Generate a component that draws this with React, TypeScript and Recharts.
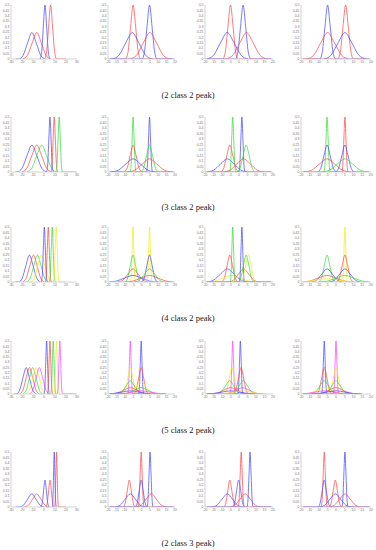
import { LineChart, Line, XAxis, YAxis } from 'recharts'

type Pt = [number, number]
// [class index, points]
type Curve = [number, Pt[]]

const xTicksFirst = [-30, -20, -10, 0, 10, 20, 30]
const xTicksRest = [-20, -15, -10, -5, 0, 5, 10, 15, 20]
const yTicks = [0, 0.05, 0.1, 0.15, 0.2, 0.25, 0.3, 0.35, 0.4, 0.45, 0.5]

const captions = ['(2 class 2 peak)', '(3 class 2 peak)', '(4 class 2 peak)', '(5 class 2 peak)', '(2 class 3 peak)']

// 0 blue, 1 red, 2 green, 3 yellow, 4 magenta
const r1c1: Curve[] = [
  [0, [[-26, 0], [-23, 0], [-19, 0.034], [-15, 0.147], [-11, 0.245], [-7, 0.147], [-3, 0.034], [1, 0]]],
  [1, [[-19.2, 0], [-15, 0.034], [-10.8, 0.147], [-6.6, 0.245], [-2.4, 0.147], [1.8, 0.034], [6, 0]]],
  [0, [[-3.6, 0], [-2.1, 0.07], [-0.6, 0.3], [0.9, 0.5], [2.4, 0.3], [3.9, 0.07], [5.4, 0]]],
  [1, [[0.6, 0], [2.4, 0.07], [4.2, 0.3], [6, 0.5], [7.8, 0.3], [9.6, 0.07], [11.4, 0], [20, 0]]],
]
const r1c2: Curve[] = [
  [1, [[-19, 0], [-9.5, 0], [-8, 0.07], [-6.5, 0.3], [-5, 0.5], [-3.5, 0.3], [-2, 0.07], [-0.5, 0], [19, 0]]],
  [0, [[-17.5, 0], [-13.5, 0.034], [-9.5, 0.147], [-5.5, 0.245], [-1.5, 0.147], [2.5, 0.034], [6.5, 0]]],
  [0, [[-19, 0], [0.3, 0], [1.8, 0.07], [3.3, 0.3], [4.8, 0.5], [6.3, 0.3], [7.8, 0.07], [9.3, 0], [19, 0]]],
  [1, [[-7, 0], [-3, 0.034], [1, 0.147], [5, 0.245], [9, 0.147], [13, 0.034], [17, 0]]],
]
const r1c3: Curve[] = [
  [1, [[-19, 0], [-9.5, 0], [-8, 0.07], [-6.5, 0.3], [-5, 0.5], [-3.5, 0.3], [-2, 0.07], [-0.5, 0], [19, 0]]],
  [0, [[-19, 0], [-15, 0.034], [-11, 0.147], [-6.9, 0.245], [-2.8, 0.147], [1.3, 0.034], [5.3, 0]]],
  [0, [[-19, 0], [-2.1, 0], [-0.6, 0.07], [0.9, 0.3], [2.4, 0.5], [3.9, 0.3], [5.4, 0.07], [6.9, 0], [19, 0]]],
  [1, [[-7.6, 0], [-3.6, 0.034], [0.4, 0.147], [4.4, 0.245], [8.4, 0.147], [12.4, 0.034], [16.4, 0]]],
]
const r1c4: Curve[] = [
  [0, [[-19, 0], [-9.3, 0], [-7.8, 0.07], [-6.3, 0.3], [-4.8, 0.5], [-3.3, 0.3], [-1.8, 0.07], [-0.3, 0], [19, 0]]],
  [1, [[-16.8, 0], [-12.8, 0.034], [-8.8, 0.147], [-4.8, 0.245], [-0.8, 0.147], [3.2, 0.034], [7.2, 0]]],
  [1, [[-19, 0], [1, 0], [2.5, 0.07], [4, 0.3], [5.5, 0.5], [7, 0.3], [8.5, 0.07], [10, 0], [19, 0]]],
  [0, [[-6.9, 0], [-2.9, 0.034], [1.1, 0.147], [5.1, 0.245], [9.1, 0.147], [13.1, 0.034], [17.1, 0]]],
]

const r2c1: Curve[] = [
  [0, [[-26, 0], [-24.5, 0], [-20, 0.034], [-15.5, 0.147], [-11, 0.245], [-6.5, 0.147], [-2, 0.034], [2.5, 0]]],
  [1, [[-20.1, 0], [-15.6, 0.034], [-11.1, 0.147], [-6.6, 0.245], [-2.1, 0.147], [2.4, 0.034], [6.9, 0]]],
  [2, [[-15.6, 0], [-11.1, 0.034], [-6.6, 0.147], [-2.1, 0.245], [2.4, 0.147], [6.9, 0.034], [11.4, 0]]],
  [0, [[2.4, 0], [3.4, 0.07], [4.4, 0.3], [5.4, 0.5], [6.4, 0.3], [7.4, 0.07], [8.4, 0]]],
  [1, [[6.3, 0], [7.3, 0.07], [8.3, 0.3], [9.3, 0.5], [10.3, 0.3], [11.3, 0.07], [12.3, 0]]],
  [2, [[10.8, 0], [11.8, 0.07], [12.8, 0.3], [13.8, 0.5], [14.8, 0.3], [15.8, 0.07], [16.8, 0], [29, 0]]],
]
const r2c2: Curve[] = [
  [2, [[-19, 0], [-6.8, 0], [-6.2, 0.07], [-5.6, 0.3], [-5, 0.5], [-4.4, 0.3], [-3.8, 0.07], [-3.2, 0], [19, 0]]],
  [1, [[-10.4, 0], [-8.6, 0.034], [-6.8, 0.147], [-5, 0.245], [-3.2, 0.147], [-1.4, 0.034], [0.4, 0]]],
  [0, [[-18.2, 0], [-13.8, 0.017], [-9.4, 0.072], [-5, 0.12], [-0.6, 0.072], [3.8, 0.017], [8.2, 0]]],
  [0, [[-19, 0], [3, 0], [3.6, 0.07], [4.2, 0.3], [4.8, 0.5], [5.4, 0.3], [6, 0.07], [6.6, 0], [19, 0]]],
  [2, [[-0.6, 0], [1.2, 0.034], [3, 0.147], [4.8, 0.245], [6.6, 0.147], [8.4, 0.034], [10.2, 0]]],
  [1, [[-8.4, 0], [-4, 0.017], [0.4, 0.072], [4.8, 0.12], [9.2, 0.072], [13.6, 0.017], [18, 0]]],
]
const r2c3: Curve[] = [
  [0, [[-18.9, 0], [-14.9, 0.017], [-10.9, 0.072], [-6.9, 0.12], [-2.9, 0.072], [1.1, 0.017], [5.1, 0]]],
  [1, [[-10.8, 0], [-9, 0.034], [-7.2, 0.147], [-5.4, 0.245], [-3.6, 0.147], [-1.8, 0.034], [0, 0]]],
  [2, [[-19, 0], [-5.5, 0], [-4.9, 0.07], [-4.3, 0.3], [-3.7, 0.5], [-3.1, 0.3], [-2.5, 0.07], [-1.9, 0], [19, 0]]],
  [0, [[-19, 0], [-0.1, 0], [0.5, 0.07], [1.1, 0.3], [1.7, 0.5], [2.3, 0.3], [2.9, 0.07], [3.5, 0], [19, 0]]],
  [1, [[-9.3, 0], [-5.3, 0.017], [-1.3, 0.072], [2.7, 0.12], [6.7, 0.072], [10.7, 0.017], [14.7, 0]]],
  [2, [[-1.2, 0], [0.6, 0.034], [2.4, 0.147], [4.2, 0.245], [6, 0.147], [7.8, 0.034], [9.6, 0]]],
]
const r2c4: Curve[] = [
  [2, [[-19, 0], [-6.9, 0], [-6.3, 0.07], [-5.7, 0.3], [-5.1, 0.5], [-4.5, 0.3], [-3.9, 0.07], [-3.3, 0], [19, 0]]],
  [0, [[-10.5, 0], [-8.7, 0.034], [-6.9, 0.147], [-5.1, 0.245], [-3.3, 0.147], [-1.5, 0.034], [0.3, 0]]],
  [1, [[-18.3, 0], [-13.9, 0.017], [-9.5, 0.072], [-5.1, 0.12], [-0.7, 0.072], [3.7, 0.017], [8.1, 0]]],
  [1, [[-19, 0], [3.3, 0], [3.9, 0.07], [4.5, 0.3], [5.1, 0.5], [5.7, 0.3], [6.3, 0.07], [6.9, 0], [19, 0]]],
  [0, [[-0.3, 0], [1.5, 0.034], [3.3, 0.147], [5.1, 0.245], [6.9, 0.147], [8.7, 0.034], [10.5, 0]]],
  [2, [[-8.1, 0], [-3.7, 0.017], [0.7, 0.072], [5.1, 0.12], [9.5, 0.072], [13.9, 0.017], [18.3, 0]]],
]

const r3c1: Curve[] = [
  [0, [[-26, 0], [-23.1, 0], [-19.8, 0.034], [-16.5, 0.147], [-13.2, 0.245], [-9.9, 0.147], [-6.6, 0.034], [-3.3, 0]]],
  [1, [[-19.5, 0], [-16.2, 0.034], [-12.9, 0.147], [-9.6, 0.245], [-6.3, 0.147], [-3, 0.034], [0.3, 0]]],
  [2, [[-15.9, 0], [-12.6, 0.034], [-9.3, 0.147], [-6, 0.245], [-2.7, 0.147], [0.6, 0.034], [3.9, 0]]],
  [3, [[-12.3, 0], [-9, 0.034], [-5.7, 0.147], [-2.4, 0.245], [0.9, 0.147], [4.2, 0.034], [7.5, 0]]],
  [0, [[-2.4, 0], [-1.5, 0.07], [-0.6, 0.3], [0.3, 0.5], [1.2, 0.3], [2.1, 0.07], [3, 0]]],
  [1, [[1.2, 0], [2.1, 0.07], [3, 0.3], [3.9, 0.5], [4.8, 0.3], [5.7, 0.07], [6.6, 0]]],
  [2, [[4.8, 0], [5.7, 0.07], [6.6, 0.3], [7.5, 0.5], [8.4, 0.3], [9.3, 0.07], [10.2, 0]]],
  [3, [[8.4, 0], [9.3, 0.07], [10.2, 0.3], [11.1, 0.5], [12, 0.3], [12.9, 0.07], [13.8, 0], [20, 0]]],
]
const r3c2: Curve[] = [
  [3, [[-19, 0], [-6.6, 0], [-6.1, 0.07], [-5.6, 0.3], [-5.1, 0.5], [-4.6, 0.3], [-4.1, 0.07], [-3.6, 0], [19, 0]]],
  [2, [[-9.9, 0], [-8.3, 0.034], [-6.7, 0.147], [-5.1, 0.245], [-3.5, 0.147], [-1.9, 0.034], [-0.3, 0]]],
  [1, [[-14.1, 0], [-11.1, 0.017], [-8.1, 0.072], [-5.1, 0.12], [-2.1, 0.072], [0.9, 0.017], [3.9, 0]]],
  [0, [[-19, 0], [-15.1, 0.008], [-10.1, 0.036], [-5.1, 0.06], [-0.1, 0.036], [4.9, 0.008], [9.9, 0]]],
  [3, [[-19, 0], [3.3, 0], [3.8, 0.07], [4.3, 0.3], [4.8, 0.5], [5.3, 0.3], [5.8, 0.07], [6.3, 0], [19, 0]]],
  [0, [[0, 0], [1.6, 0.034], [3.2, 0.147], [4.8, 0.245], [6.4, 0.147], [8, 0.034], [9.6, 0]]],
  [2, [[-4.2, 0], [-1.2, 0.017], [1.8, 0.072], [4.8, 0.12], [7.8, 0.072], [10.8, 0.017], [13.8, 0]]],
  [1, [[-10.2, 0], [-5.2, 0.008], [-0.2, 0.036], [4.8, 0.06], [9.8, 0.036], [14.8, 0.008], [19, 0]]],
]
const r3c3: Curve[] = [
  [0, [[-18.9, 0], [-14.9, 0.017], [-10.9, 0.072], [-6.9, 0.12], [-2.9, 0.072], [1.1, 0.017], [5.1, 0]]],
  [1, [[-10.2, 0], [-8.6, 0.034], [-7, 0.147], [-5.4, 0.245], [-3.8, 0.147], [-2.2, 0.034], [-0.6, 0]]],
  [3, [[-19, 0], [-14.5, 0.008], [-9.5, 0.036], [-4.5, 0.06], [0.5, 0.036], [5.5, 0.008], [10.5, 0]]],
  [2, [[-19, 0], [-5.2, 0], [-4.7, 0.07], [-4.2, 0.3], [-3.7, 0.5], [-3.2, 0.3], [-2.7, 0.07], [-2.2, 0], [19, 0]]],
  [0, [[-19, 0], [0.2, 0], [0.7, 0.07], [1.2, 0.3], [1.7, 0.5], [2.2, 0.3], [2.7, 0.07], [3.2, 0], [19, 0]]],
  [1, [[-6.3, 0], [-3.3, 0.017], [-0.3, 0.072], [2.7, 0.12], [5.7, 0.072], [8.7, 0.017], [11.7, 0]]],
  [2, [[-0.6, 0], [1, 0.034], [2.6, 0.147], [4.2, 0.245], [5.8, 0.147], [7.4, 0.034], [9, 0]]],
  [3, [[0.7, 0], [2.3, 0.034], [3.9, 0.147], [5.5, 0.245], [7.1, 0.147], [8.7, 0.034], [10.3, 0]]],
]
const r3c4: Curve[] = [
  [2, [[-9.9, 0], [-8.3, 0.034], [-6.7, 0.147], [-5.1, 0.245], [-3.5, 0.147], [-1.9, 0.034], [-0.3, 0]]],
  [0, [[-14.1, 0], [-11.1, 0.017], [-8.1, 0.072], [-5.1, 0.12], [-2.1, 0.072], [0.9, 0.017], [3.9, 0]]],
  [1, [[-19, 0], [-15.1, 0.008], [-10.1, 0.036], [-5.1, 0.06], [-0.1, 0.036], [4.9, 0.008], [9.9, 0]]],
  [3, [[-19, 0], [-17.1, 0.004], [-11.1, 0.018], [-5.1, 0.03], [0.9, 0.018], [6.9, 0.004], [12.9, 0]]],
  [3, [[-19, 0], [3.6, 0], [4.1, 0.07], [4.6, 0.3], [5.1, 0.5], [5.6, 0.3], [6.1, 0.07], [6.6, 0], [19, 0]]],
  [1, [[0.3, 0], [1.9, 0.034], [3.5, 0.147], [5.1, 0.245], [6.7, 0.147], [8.3, 0.034], [9.9, 0]]],
  [0, [[-3.9, 0], [-0.9, 0.017], [2.1, 0.072], [5.1, 0.12], [8.1, 0.072], [11.1, 0.017], [14.1, 0]]],
  [2, [[-9.9, 0], [-4.9, 0.008], [0.1, 0.036], [5.1, 0.06], [10.1, 0.036], [15.1, 0.008], [19, 0]]],
]

const r4c1: Curve[] = [
  [0, [[-27, 0], [-25.2, 0], [-22.2, 0.035], [-19.2, 0.15], [-16.2, 0.25], [-13.2, 0.15], [-10.2, 0.035], [-7.2, 0]]],
  [1, [[-22.2, 0], [-19.2, 0.035], [-16.2, 0.15], [-13.2, 0.25], [-10.2, 0.15], [-7.2, 0.035], [-4.2, 0]]],
  [2, [[-19.2, 0], [-16.2, 0.035], [-13.2, 0.15], [-10.2, 0.25], [-7.2, 0.15], [-4.2, 0.035], [-1.2, 0]]],
  [3, [[-16.2, 0], [-13.2, 0.035], [-10.2, 0.15], [-7.2, 0.25], [-4.2, 0.15], [-1.2, 0.035], [1.8, 0]]],
  [4, [[-13.2, 0], [-10.2, 0.035], [-7.2, 0.15], [-4.2, 0.25], [-1.2, 0.15], [1.8, 0.035], [4.8, 0]]],
  [0, [[0, 0], [0.8, 0.07], [1.6, 0.3], [2.4, 0.5], [3.2, 0.3], [4, 0.07], [4.8, 0]]],
  [1, [[3, 0], [3.8, 0.07], [4.6, 0.3], [5.4, 0.5], [6.2, 0.3], [7, 0.07], [7.8, 0]]],
  [2, [[6, 0], [6.8, 0.07], [7.6, 0.3], [8.4, 0.5], [9.2, 0.3], [10, 0.07], [10.8, 0]]],
  [3, [[9, 0], [9.8, 0.07], [10.6, 0.3], [11.4, 0.5], [12.2, 0.3], [13, 0.07], [13.8, 0]]],
  [4, [[12, 0], [12.8, 0.07], [13.6, 0.3], [14.4, 0.5], [15.2, 0.3], [16, 0.07], [16.8, 0], [29, 0]]],
]
const r4c2: Curve[] = [
  [4, [[-19, 0], [-8.2, 0], [-7.7, 0.07], [-7.2, 0.3], [-6.7, 0.5], [-6.2, 0.3], [-5.7, 0.07], [-5.2, 0], [14, 0]]],
  [3, [[-11.2, 0], [-9.7, 0.035], [-8.2, 0.15], [-6.7, 0.25], [-5.2, 0.15], [-3.7, 0.035], [-2.2, 0]]],
  [2, [[-14.2, 0], [-11.7, 0.018], [-9.2, 0.075], [-6.7, 0.125], [-4.2, 0.075], [-1.7, 0.018], [0.8, 0]]],
  [1, [[-18.7, 0], [-14.7, 0.008], [-10.7, 0.036], [-6.7, 0.06], [-2.7, 0.036], [1.3, 0.008], [5.3, 0]]],
  [0, [[-19, 0], [-16.7, 0.005], [-11.7, 0.018], [-6.7, 0.03], [-1.7, 0.018], [3.3, 0.005], [8.3, 0]]],
  [0, [[-19, 0], [-1.7, 0], [-1.2, 0.07], [-0.7, 0.3], [-0.2, 0.5], [0.3, 0.3], [0.8, 0.07], [1.3, 0], [14, 0]]],
  [1, [[-4.7, 0], [-3.2, 0.035], [-1.7, 0.15], [-0.2, 0.25], [1.3, 0.15], [2.8, 0.035], [4.3, 0]]],
  [3, [[-7.7, 0], [-5.2, 0.018], [-2.7, 0.075], [-0.2, 0.125], [2.3, 0.075], [4.8, 0.018], [7.3, 0]]],
  [2, [[-12.2, 0], [-8.2, 0.008], [-4.2, 0.036], [-0.2, 0.06], [3.8, 0.036], [7.8, 0.008], [11.8, 0]]],
  [4, [[-15.2, 0], [-10.2, 0.005], [-5.2, 0.018], [-0.2, 0.03], [4.8, 0.018], [9.8, 0.005], [14.8, 0]]],
]
const r4c3: Curve[] = [
  [4, [[-19, 0], [-5.2, 0], [-4.7, 0.07], [-4.2, 0.3], [-3.7, 0.5], [-3.2, 0.3], [-2.7, 0.07], [-2.2, 0], [14, 0]]],
  [3, [[-8.7, 0], [-7.2, 0.035], [-5.7, 0.15], [-4.2, 0.25], [-2.7, 0.15], [-1.2, 0.035], [0.3, 0]]],
  [2, [[-13, 0], [-10.5, 0.018], [-8, 0.075], [-5.5, 0.125], [-3, 0.075], [-0.5, 0.018], [2, 0]]],
  [1, [[-17, 0], [-13, 0.008], [-9, 0.036], [-5, 0.06], [-1, 0.036], [3, 0.008], [7, 0]]],
  [0, [[-19, 0], [-15, 0.005], [-10, 0.018], [-5, 0.03], [0, 0.018], [5, 0.005], [10, 0]]],
  [0, [[-19, 0], [-0.7, 0], [-0.2, 0.07], [0.3, 0.3], [0.8, 0.5], [1.3, 0.3], [1.8, 0.07], [2.3, 0], [14, 0]]],
  [1, [[-3.3, 0], [-1.8, 0.035], [-0.3, 0.15], [1.2, 0.25], [2.7, 0.15], [4.2, 0.035], [5.7, 0]]],
  [2, [[-5, 0], [-2.5, 0.018], [0, 0.075], [2.5, 0.125], [5, 0.075], [7.5, 0.018], [10, 0]]],
  [4, [[-10, 0], [-6, 0.008], [-2, 0.036], [2, 0.06], [6, 0.036], [10, 0.008], [14, 0]]],
  [3, [[-13, 0], [-8, 0.005], [-3, 0.018], [2, 0.03], [7, 0.018], [12, 0.005], [17, 0]]],
]
const r4c4: Curve[] = [
  [0, [[-19, 0], [-8.2, 0], [-7.7, 0.07], [-7.2, 0.3], [-6.7, 0.5], [-6.2, 0.3], [-5.7, 0.07], [-5.2, 0], [14, 0]]],
  [1, [[-11.2, 0], [-9.7, 0.035], [-8.2, 0.15], [-6.7, 0.25], [-5.2, 0.15], [-3.7, 0.035], [-2.2, 0]]],
  [2, [[-14.2, 0], [-11.7, 0.018], [-9.2, 0.075], [-6.7, 0.125], [-4.2, 0.075], [-1.7, 0.018], [0.8, 0]]],
  [3, [[-18.7, 0], [-14.7, 0.008], [-10.7, 0.036], [-6.7, 0.06], [-2.7, 0.036], [1.3, 0.008], [5.3, 0]]],
  [4, [[-19, 0], [-16.7, 0.005], [-11.7, 0.018], [-6.7, 0.03], [-1.7, 0.018], [3.3, 0.005], [8.3, 0]]],
  [4, [[-19, 0], [-1.5, 0], [-1, 0.07], [-0.5, 0.3], [0, 0.5], [0.5, 0.3], [1, 0.07], [1.5, 0], [14, 0]]],
  [3, [[-4.5, 0], [-3, 0.035], [-1.5, 0.15], [0, 0.25], [1.5, 0.15], [3, 0.035], [4.5, 0]]],
  [2, [[-7.5, 0], [-5, 0.018], [-2.5, 0.075], [0, 0.125], [2.5, 0.075], [5, 0.018], [7.5, 0]]],
  [1, [[-12, 0], [-8, 0.008], [-4, 0.036], [0, 0.06], [4, 0.036], [8, 0.008], [12, 0]]],
  [0, [[-15, 0], [-10, 0.005], [-5, 0.018], [0, 0.03], [5, 0.018], [10, 0.005], [15, 0]]],
]

const r5c1: Curve[] = [
  [0, [[-26, 0], [-22.4, 0], [-18.6, 0.017], [-14.9, 0.072], [-11.1, 0.12], [-7.4, 0.072], [-3.6, 0.017], [0.2, 0]]],
  [1, [[-17.9, 0], [-14.1, 0.017], [-10.4, 0.072], [-6.6, 0.12], [-2.9, 0.072], [0.9, 0.017], [4.7, 0]]],
  [0, [[-2.9, 0], [-1.6, 0.034], [-0.4, 0.147], [0.9, 0.245], [2.2, 0.147], [3.4, 0.034], [4.7, 0]]],
  [1, [[1.7, 0], [2.9, 0.034], [4.2, 0.147], [5.4, 0.245], [6.7, 0.147], [7.9, 0.034], [9.2, 0]]],
  [0, [[7.5, 0], [8.1, 0.07], [8.7, 0.3], [9.3, 0.5], [9.9, 0.3], [10.5, 0.07], [11.1, 0]]],
  [1, [[9.6, 0], [10.2, 0.07], [10.8, 0.3], [11.4, 0.5], [12, 0.3], [12.6, 0.07], [13.2, 0], [20, 0]]],
]
const r5c2: Curve[] = [
  [1, [[-10.9, 0], [-9.7, 0.034], [-8.5, 0.147], [-7.3, 0.245], [-6.1, 0.147], [-4.9, 0.034], [-3.7, 0]]],
  [0, [[-15.7, 0], [-12.7, 0.017], [-9.7, 0.072], [-6.7, 0.12], [-3.7, 0.072], [-0.7, 0.017], [2.3, 0]]],
  [1, [[-19, 0], [-2, 0], [-1.4, 0.07], [-0.8, 0.3], [-0.2, 0.5], [0.4, 0.3], [1, 0.07], [1.6, 0], [19, 0]]],
  [0, [[-3.8, 0], [-2.6, 0.034], [-1.4, 0.147], [-0.2, 0.245], [1, 0.147], [2.2, 0.034], [3.4, 0]]],
  [0, [[-19, 0], [3.3, 0], [3.9, 0.07], [4.5, 0.3], [5.1, 0.5], [5.7, 0.3], [6.3, 0.07], [6.9, 0], [19, 0]]],
  [1, [[-3.2, 0], [-0.2, 0.017], [2.8, 0.072], [5.8, 0.12], [8.8, 0.072], [11.8, 0.017], [14.8, 0]]],
]
const r5c3: Curve[] = [
  [0, [[-15.9, 0], [-12.9, 0.017], [-9.9, 0.072], [-6.9, 0.12], [-3.9, 0.072], [-0.9, 0.017], [2.1, 0]]],
  [1, [[-9, 0], [-7.8, 0.034], [-6.6, 0.147], [-5.4, 0.245], [-4.2, 0.147], [-3, 0.034], [-1.8, 0]]],
  [0, [[-3.8, 0], [-2.6, 0.034], [-1.4, 0.147], [-0.2, 0.245], [1, 0.147], [2.2, 0.034], [3.4, 0]]],
  [1, [[-19, 0], [-0.5, 0], [0.1, 0.07], [0.7, 0.3], [1.3, 0.5], [1.9, 0.3], [2.5, 0.07], [3.1, 0], [19, 0]]],
  [1, [[-5.4, 0], [-2.4, 0.017], [0.6, 0.072], [3.6, 0.12], [6.6, 0.072], [9.6, 0.017], [12.6, 0]]],
  [0, [[-19, 0], [4.7, 0], [5.3, 0.07], [5.9, 0.3], [6.5, 0.5], [7.1, 0.3], [7.7, 0.07], [8.3, 0], [19, 0]]],
]
const r5c4: Curve[] = [
  [1, [[-19, 0], [-8.5, 0], [-7.9, 0.07], [-7.3, 0.3], [-6.7, 0.5], [-6.1, 0.3], [-5.5, 0.07], [-4.9, 0], [19, 0]]],
  [0, [[-10.3, 0], [-9.1, 0.034], [-7.9, 0.147], [-6.7, 0.245], [-5.5, 0.147], [-4.3, 0.034], [-3.1, 0]]],
  [1, [[-4, 0], [-2.8, 0.034], [-1.6, 0.147], [-0.4, 0.245], [0.8, 0.147], [2, 0.034], [3.2, 0]]],
  [0, [[-9.4, 0], [-6.4, 0.017], [-3.4, 0.072], [-0.4, 0.12], [2.6, 0.072], [5.6, 0.017], [8.6, 0]]],
  [0, [[-19, 0], [3.3, 0], [3.9, 0.07], [4.5, 0.3], [5.1, 0.5], [5.7, 0.3], [6.3, 0.07], [6.9, 0], [19, 0]]],
  [1, [[-3.9, 0], [-0.9, 0.017], [2.1, 0.072], [5.1, 0.12], [8.1, 0.072], [11.1, 0.017], [14.1, 0]]],
]

const panels: Curve[][][] = [
  [r1c1, r1c2, r1c3, r1c4],
  [r2c1, r2c2, r2c3, r2c4],
  [r3c1, r3c2, r3c3, r3c4],
  [r4c1, r4c2, r4c3, r4c4],
  [r5c1, r5c2, r5c3, r5c4],
]

const classColors = ['#4646ff', '#ff4646', '#33dd33', '#eded1c', '#ff40ff']

// plot-box placement on the page
const colLeft = [11, 108, 205, 301]
const colW = [66, 67, 68, 70]
const rowTop = [5, 117, 227, 341, 452]
const rowH = [54, 55, 55, 53, 55]
const capTop = [90, 202, 313, 425, 538]

const tickStyle = { fontSize: 3.5, fill: '#777', fontFamily: 'Liberation Sans, sans-serif' }
const frame = { stroke: '#c8c8c8', strokeWidth: 0.8 }

function Panel({ curves, xTicks, left, top, w, h }: { curves: Curve[]; xTicks: number[]; left: number; top: number; w: number; h: number }) {
  const yw = 11
  const xh = 10
  const pt = 4
  const pr = 6
  const xDom = [xTicks[0], xTicks[xTicks.length - 1]]
  return (
    <div style={{ position: 'absolute', left: left - yw, top: top - pt }}>
      <LineChart width={yw + w + pr} height={pt + h + xh} margin={{ top: pt, right: pr, bottom: 0, left: 0 }}>
        <XAxis xAxisId="b" type="number" dataKey="x" domain={xDom} ticks={xTicks} interval={0} allowDataOverflow height={xh} tick={tickStyle} tickLine={false} tickSize={0} axisLine={frame} tickMargin={1.5} />
        <XAxis xAxisId="t" orientation="top" type="number" dataKey="x" domain={xDom} allowDataOverflow height={0} tick={false} tickLine={false} axisLine={frame} />
        <YAxis yAxisId="l" type="number" domain={[0, 0.5]} ticks={yTicks} interval={0} allowDataOverflow width={yw} tick={tickStyle} tickLine={false} tickSize={0} axisLine={frame} tickMargin={1.5} />
        <YAxis yAxisId="r" orientation="right" type="number" domain={[0, 0.5]} allowDataOverflow width={0} tick={false} tickLine={false} axisLine={frame} />
        {curves.map(([k, p], i) => (
          <Line
            key={i}
            xAxisId="b"
            yAxisId="l"
            data={p.map(([x, y]) => ({ x, y }))}
            dataKey="y"
            type="monotone"
            stroke={classColors[k]}
            strokeWidth={0.9}
            strokeOpacity={0.8}
            dot={false}
            activeDot={false}
            isAnimationActive={false}
          />
        ))}
      </LineChart>
    </div>
  )
}

export default function App() {
  return (
    <div style={{ position: 'absolute', left: 0, top: 0, width: 376, height: 550, background: '#fff', overflow: 'hidden' }}>
      {panels.map((row, ri) =>
        row.map((curves, ci) => (
          <Panel
            key={`${ri}-${ci}`}
            curves={curves}
            xTicks={ci === 0 ? xTicksFirst : xTicksRest}
            left={colLeft[ci]}
            top={rowTop[ri]}
            w={colW[ci]}
            h={rowH[ri]}
          />
        ))
      )}
      {captions.map((t, i) => (
        <div
          key={i}
          style={{ position: 'absolute', left: 0, width: 376, top: capTop[i], textAlign: 'center', fontFamily: '"Liberation Serif", serif', fontSize: 8.5, lineHeight: '10px', color: '#222' }}
        >
          {t}
        </div>
      ))}
    </div>
  )
}
